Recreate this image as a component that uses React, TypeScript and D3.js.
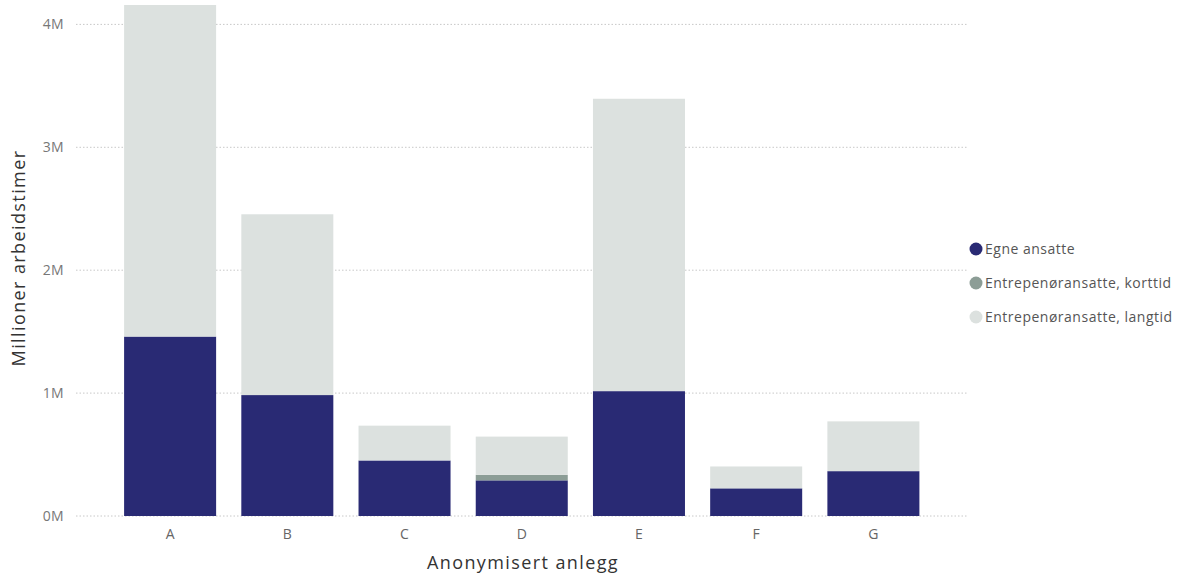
import React from "react";
import * as d3 from "d3";

const categories = ["A", "B", "C", "D", "E", "F", "G"];
const egne = [1.46, 0.984, 0.452, 0.29, 1.016, 0.225, 0.365];
const korttid = [0, 0, 0, 0.045, 0, 0, 0];
const langtid = [2.698, 1.471, 0.283, 0.311, 2.379, 0.178, 0.405];
const seriesNames = ["Egne ansatte", "Entrepenøransatte, korttid", "Entrepenøransatte, langtid"];
const seriesColors = ["#292a74", "#8c9d96", "#dce1df"];
const yTicks = [0, 1, 2, 3, 4];

const W = 1179;
const H = 577;

export default function App() {
  const y = d3.scaleLinear().domain([0, 4]).range([516, 24.4]);
  const x = d3
    .scaleBand<string>()
    .domain(categories)
    .range([111.5, 932])
    .paddingInner(0.215)
    .paddingOuter(0.1075);

  const rows = categories.map((c, i) => ({
    cat: c,
    s0: egne[i],
    s1: korttid[i],
    s2: langtid[i],
  }));
  const stack = d3.stack<any>().keys(["s0", "s1", "s2"]);
  const layers = stack(rows);

  const font = "'Segoe UI', 'Open Sans', 'Noto Sans', sans-serif";

  return (
    <svg
      width={W}
      height={H}
      style={{ position: "absolute", left: 0, top: 0, background: "#fff" }}
      fontFamily={font}
    >
      {yTicks.map((t) => (
        <g key={t}>
          <line
            x1={76}
            x2={967}
            y1={y(t)}
            y2={y(t)}
            stroke="#c8c8c8"
            strokeWidth={1}
            strokeDasharray="1.5,2"
          />
          <text
            x={64}
            y={y(t)}
            dy="0.35em"
            textAnchor="end"
            fontSize={14}
            letterSpacing={0.3}
            fill="#777"
          >
            {t}M
          </text>
        </g>
      ))}
      {layers.map((layer, li) =>
        layer.map((d, i) => {
          const h = y(d[0]) - y(d[1]);
          if (h <= 0) return null;
          return (
            <rect
              key={li + "-" + i}
              x={x(categories[i])}
              y={y(d[1])}
              width={x.bandwidth()}
              height={h}
              fill={seriesColors[li]}
            />
          );
        })
      )}
      {categories.map((c) => (
        <text
          key={c}
          x={(x(c) as number) + x.bandwidth() / 2}
          y={534}
          dy="0.35em"
          textAnchor="middle"
          fontSize={14}
          fill="#666"
        >
          {c}
        </text>
      ))}
      <text
        x={523}
        y={563}
        dy="0.35em"
        textAnchor="middle"
        fontSize={18}
        letterSpacing={1.4}
        fill="#333"
      >
        Anonymisert anlegg
      </text>
      <text
        transform="translate(19,258) rotate(-90)"
        dy="0.35em"
        textAnchor="middle"
        fontSize={18}
        letterSpacing={1.4}
        fill="#333"
      >
        Millioner arbeidstimer
      </text>
      {seriesNames.map((n, i) => (
        <g key={n} transform={`translate(976,${249 + i * 34})`}>
          <circle cx={0} cy={0} r={6.5} fill={seriesColors[i]} />
          <text x={9} y={0} dy="0.35em" fontSize={14} letterSpacing={0.5} fill="#555">
            {n}
          </text>
        </g>
      ))}
    </svg>
  );
}
